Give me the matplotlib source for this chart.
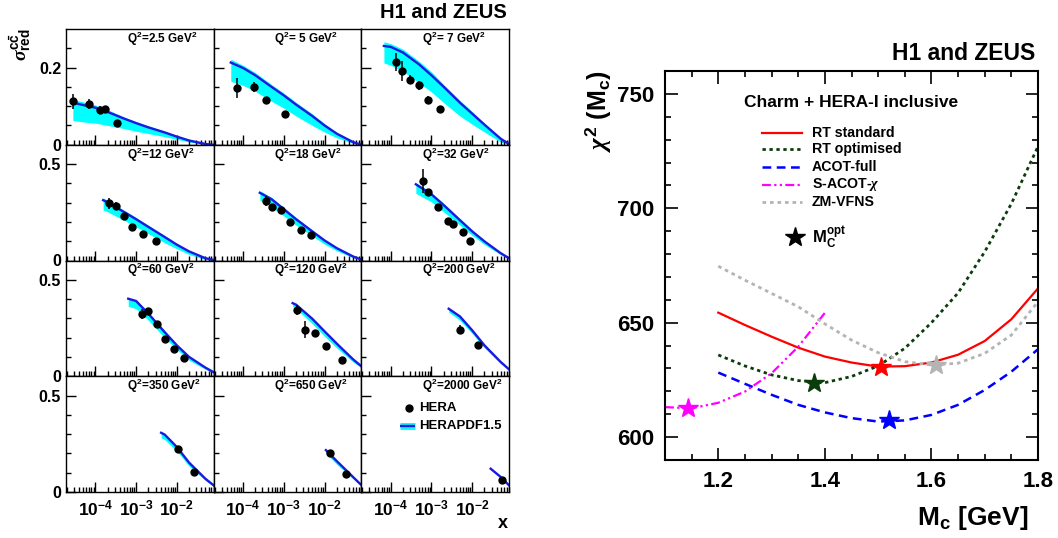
import numpy as np
import matplotlib
matplotlib.use("Agg")
import matplotlib.pyplot as plt
from matplotlib.ticker import FixedLocator, FixedFormatter, MultipleLocator, LogLocator, NullFormatter

plt.rcParams['font.family'] = ['Liberation Sans', 'DejaVu Sans']
plt.rcParams['font.weight'] = 'bold'
plt.rcParams['mathtext.fontset'] = 'custom'
plt.rcParams['mathtext.rm'] = 'Liberation Sans:bold'
plt.rcParams['mathtext.it'] = 'Liberation Serif:italic'
plt.rcParams['mathtext.bf'] = 'Liberation Sans:bold'
plt.rcParams['mathtext.sf'] = 'Liberation Sans:bold'

# ---------------- Left: reduced charm cross sections ----------------
q2_labels = ["2.5", " 5", " 7", "12", "18", "32", "60", "120", "200", "350", "650", "2000"]

hera_x = [
    [2.81e-5, 6.84e-5, 1.28e-4, 1.77e-4, 3.43e-4],
    [7.1e-5, 1.83e-4, 3.56e-4, 1.05e-3],
    [1.33e-4, 1.87e-4, 3.0e-4, 5.0e-4, 8.0e-4, 1.65e-3],
    [2.17e-4, 3.18e-4, 5.0e-4, 8.0e-4, 1.5e-3, 3.03e-3],
    [3.56e-4, 5.1e-4, 8.35e-4, 1.42e-3, 2.6e-3, 4.78e-3],
    [6.28e-4, 8.0e-4, 1.42e-3, 2.5e-3, 3.46e-3, 5.9e-3, 8.6e-3],
    [1.42e-3, 2.0e-3, 3.2e-3, 5.15e-3, 8.3e-3, 1.52e-2],
    [2.07e-3, 3.33e-3, 5.77e-3, 1.06e-2, 2.63e-2],
    [5.15e-3, 1.38e-2],
    [1.04e-2, 2.58e-2],
    [1.38e-2, 3.43e-2],
    [5.4e-2],
]
hera_y = [
    [0.1126, 0.1065, 0.0892, 0.0918, 0.0563],
    [0.147, 0.150, 0.115, 0.0805],
    [0.2147, 0.191, 0.169, 0.154, 0.117, 0.0935],
    [0.2957, 0.2817, 0.2313, 0.174, 0.139, 0.099],
    [0.308, 0.275, 0.264, 0.200, 0.1565, 0.134],
    [0.412, 0.353, 0.2765, 0.2035, 0.191, 0.148, 0.099],
    [0.3207, 0.336, 0.269, 0.195, 0.143, 0.0966],
    [0.341, 0.241, 0.224, 0.157, 0.086],
    [0.241, 0.164],
    [0.2207, 0.1034],
    [0.200, 0.095],
    [0.062],
]
hera_err = [
    [0.019, 0.013, 0.010, 0.009, 0.006],
    [0.026, 0.013, 0.010, 0.006],
    [0.024, 0.026, 0.011, 0.011, 0.009, 0.007],
    [0.030, 0.020, 0.012, 0.010, 0.008, 0.008],
    [0.028, 0.017, 0.014, 0.012, 0.010, 0.010],
    [0.064, 0.020, 0.014, 0.012, 0.012, 0.012, 0.010],
    [0.026, 0.017, 0.014, 0.014, 0.014, 0.010],
    [0.026, 0.043, 0.017, 0.014, 0.010],
    [0.024, 0.012],
    [0.020, 0.010],
    [0.020, 0.010],
    [0.012],
]

pdf_x = [
    [2.8e-5, 5e-5, 1e-4, 2e-4, 5e-4, 1e-3, 2e-3, 5e-3, 1e-2, 2e-2, 5e-2, 8e-2],
    [5e-5, 1e-4, 2e-4, 5e-4, 1e-3, 2e-3, 5e-3, 1e-2, 2e-2, 5e-2, 8e-2],
    [6.8e-5, 1e-4, 2e-4, 5e-4, 1e-3, 2e-3, 5e-3, 1e-2, 2e-2, 5e-2, 8e-2],
    [1.55e-4, 2e-4, 5e-4, 1e-3, 2e-3, 5e-3, 1e-2, 2e-2, 5e-2, 8e-2],
    [2.58e-4, 5e-4, 1e-3, 2e-3, 5e-3, 1e-2, 2e-2, 5e-2, 8e-2],
    [4.14e-4, 1e-3, 2e-3, 5e-3, 1e-2, 2e-2, 5e-2, 8e-2],
    [6.4e-4, 1e-3, 2e-3, 5e-3, 1e-2, 2e-2, 5e-2, 8e-2],
    [1.65e-3, 2e-3, 5e-3, 1e-2, 2e-2, 5e-2, 8e-2],
    [2.65e-3, 5e-3, 1e-2, 2e-2, 5e-2, 8e-2],
    [4.1e-3, 5e-3, 1e-2, 2e-2, 5e-2, 8e-2],
    [1.08e-2, 2e-2, 5e-2, 8e-2],
    [2.84e-2, 5e-2, 8e-2],
]
pdf_mid = [
    [0.109, 0.103, 0.096, 0.085, 0.068, 0.056, 0.045, 0.032, 0.021, 0.011, 0.002, 0.0],
    [0.213, 0.199, 0.180, 0.150, 0.128, 0.104, 0.0745, 0.050, 0.0286, 0.007, 0.0],
    [0.256, 0.2537, 0.239, 0.208, 0.180, 0.150, 0.109, 0.0805, 0.052, 0.0156, 0.002],
    [0.313, 0.301, 0.252, 0.214, 0.174, 0.122, 0.082, 0.047, 0.012, 0.003],
    [0.351, 0.318, 0.266, 0.214, 0.151, 0.104, 0.064, 0.021, 0.005],
    [0.395, 0.343, 0.287, 0.209, 0.151, 0.099, 0.038, 0.012],
    [0.402, 0.390, 0.324, 0.229, 0.160, 0.100, 0.045, 0.021],
    [0.379, 0.371, 0.298, 0.233, 0.169, 0.088, 0.052],
    [0.350, 0.310, 0.238, 0.160, 0.074, 0.036],
    [0.307, 0.298, 0.233, 0.152, 0.069, 0.0345],
    [0.217, 0.160, 0.078, 0.036],
    [0.1207, 0.078, 0.0345],
]
pdf_hi = [
    [0.117, 0.111, 0.103, 0.091, 0.072, 0.060, 0.049, 0.035, 0.023, 0.012, 0.003, 0.0],
    [0.2216, 0.206, 0.187, 0.156, 0.134, 0.110, 0.080, 0.0545, 0.032, 0.0087, 0.0],
    [0.267, 0.262, 0.2476, 0.216, 0.189, 0.156, 0.115, 0.0857, 0.056, 0.018, 0.003],
    [0.325, 0.311, 0.261, 0.223, 0.183, 0.129, 0.087, 0.050, 0.014, 0.004],
    [0.362, 0.327, 0.275, 0.223, 0.158, 0.110, 0.068, 0.023, 0.006],
    [0.4035, 0.351, 0.296, 0.2175, 0.158, 0.104, 0.042, 0.014],
    [0.405, 0.393, 0.331, 0.236, 0.1655, 0.105, 0.048, 0.022],
    [0.384, 0.376, 0.303, 0.238, 0.174, 0.091, 0.055],
    [0.353, 0.3155, 0.243, 0.1655, 0.078, 0.040],
    [0.310, 0.302, 0.236, 0.155, 0.072, 0.036],
    [0.220, 0.164, 0.081, 0.038],
    [0.122, 0.079, 0.036],
]
pdf_lo = [
    [0.063, 0.059, 0.056, 0.050, 0.042, 0.035, 0.029, 0.021, 0.014, 0.007, 0.001, 0.0],
    [0.1645, 0.154, 0.1385, 0.1125, 0.095, 0.0745, 0.050, 0.033, 0.018, 0.0035, 0.0],
    [0.212, 0.206, 0.190, 0.160, 0.137, 0.109, 0.0745, 0.053, 0.033, 0.007, 0.001],
    [0.261, 0.252, 0.209, 0.174, 0.139, 0.092, 0.061, 0.031, 0.005, 0.001],
    [0.313, 0.278, 0.231, 0.183, 0.127, 0.085, 0.050, 0.014, 0.003],
    [0.348, 0.304, 0.252, 0.183, 0.130, 0.083, 0.030, 0.009],
    [0.362, 0.350, 0.290, 0.200, 0.138, 0.083, 0.036, 0.016],
    [0.362, 0.350, 0.272, 0.207, 0.1466, 0.074, 0.045],
    [0.333, 0.2897, 0.221, 0.1466, 0.0655, 0.031],
    [0.281, 0.272, 0.212, 0.134, 0.060, 0.029],
    [0.200, 0.143, 0.069, 0.031],
    [0.1155, 0.074, 0.031],
]

# ---------------- Right: chi2 scans ----------------
mc_grid = [1.20, 1.25, 1.30, 1.35, 1.40, 1.45, 1.50, 1.55, 1.60, 1.65, 1.70, 1.75, 1.80]
chi2_rt_standard = [654.4, 649.0, 643.9, 639.1, 635.2, 632.6, 630.8, 631.0, 632.6, 636.0, 642.0, 651.5, 665.0]
chi2_rt_optimised = [635.9, 631.1, 627.2, 624.7, 623.8, 626.5, 631.1, 638.8, 650.0, 663.0, 681.0, 702.0, 727.0]
chi2_acot_full = [628.2, 623.3, 618.5, 614.1, 610.8, 608.3, 606.8, 607.3, 609.7, 614.1, 620.6, 628.6, 638.4]
chi2_zmvfns = [674.7, 668.6, 662.8, 657.0, 649.5, 642.4, 636.9, 633.0, 631.5, 632.3, 636.6, 644.6, 659.2]
mc_grid_sacot = [1.10, 1.15, 1.20, 1.25, 1.30, 1.35, 1.40]
chi2_sacot = [613.1, 612.6, 615.0, 619.9, 627.9, 639.5, 654.3]

scheme_names = ["RT standard", "RT optimised", "ACOT-full", r"S-ACOT-$\chi$", "ZM-VFNS"]
mc_opt = [1.506, 1.38, 1.52, 1.144, 1.609]
chi2_opt = [630.8, 623.8, 607.6, 612.6, 631.5]

# ---------------- Figure ----------------
fig = plt.figure(figsize=(10.58, 5.38), dpi=100)
gs = fig.add_gridspec(4, 3, left=66/1058, right=509/1058, top=1-29/538, bottom=1-492/538,
                      hspace=0, wspace=0)

band_col = '#00ffff'
line_col = '#1a1ae0'

for i in range(12):
    r, c = divmod(i, 3)
    ax = fig.add_subplot(gs[r, c])
    ax.set_xscale('log')
    ax.fill_between(pdf_x[i], pdf_lo[i], pdf_hi[i], color=band_col, lw=0)
    ax.plot(pdf_x[i], pdf_mid[i], color=line_col, lw=1.7)
    ax.errorbar(hera_x[i], hera_y[i], yerr=hera_err[i], fmt='o', color='k', ms=5,
                elinewidth=1.1, capsize=0)
    ax.set_xlim(1.9e-5, 0.08)
    if r == 0:
        ax.set_ylim(0, 0.3)
        ax.yaxis.set_major_locator(FixedLocator([0, 0.2]))
        ax.yaxis.set_minor_locator(FixedLocator([0.05, 0.1, 0.15, 0.25]))
        ylabs = ['0', '0.2']
    else:
        ax.set_ylim(0, 0.6)
        ax.yaxis.set_major_locator(FixedLocator([0, 0.5]))
        ax.yaxis.set_minor_locator(FixedLocator([0.1, 0.2, 0.3, 0.4]))
        ylabs = ['0', '0.5']
    if c == 0:
        ax.yaxis.set_major_formatter(FixedFormatter(ylabs))
    else:
        ax.yaxis.set_major_formatter(NullFormatter())
    ax.xaxis.set_major_locator(FixedLocator([1e-4, 1e-3, 1e-2]))
    ax.xaxis.set_minor_locator(LogLocator(base=10, subs=np.arange(2, 10), numticks=20))
    ax.xaxis.set_minor_formatter(NullFormatter())
    if r == 3:
        ax.xaxis.set_major_formatter(FixedFormatter([r'$\mathrm{10^{-4}}$', r'$\mathrm{10^{-3}}$',
                                                     r'$\mathrm{10^{-2}}$']))
    else:
        ax.xaxis.set_major_formatter(NullFormatter())
    ax.tick_params(which='both', direction='in', top=False, right=False, labelsize=11.5, width=1)
    ax.tick_params(axis='x', labelsize=12.5)
    ax.tick_params(which='major', length=7)
    ax.tick_params(which='minor', length=3.5)
    ax.tick_params(axis='x', which='major', pad=5)
    for s in ax.spines.values():
        s.set_linewidth(1.0)
    ax.text(0.41, 0.915, r'Q$\mathrm{^2}$=' + q2_labels[i] + r' GeV$\mathrm{^2}$', transform=ax.transAxes,
            fontsize=8.5, fontweight='bold', ha='left', va='center')
    if i == 11:
        ax.plot([0.32], [0.7216], 'o', color='k', ms=5, transform=ax.transAxes, clip_on=False)
        ax.text(0.391, 0.7216, 'HERA', transform=ax.transAxes, fontsize=9.5, va='center')
        ax.plot([0.26, 0.365], [0.569, 0.569], color=band_col, lw=5, transform=ax.transAxes,
                solid_capstyle='butt')
        ax.plot([0.26, 0.365], [0.569, 0.569], color=line_col, lw=1.7, transform=ax.transAxes,
                solid_capstyle='butt')
        ax.text(0.391, 0.569, 'HERAPDF1.5', transform=ax.transAxes, fontsize=9.5, va='center')

fig.text(507/1058, 1-13/538, 'H1 and ZEUS', ha='right', va='center', fontsize=14.5, fontweight='bold')
fig.text(20/1058, 1-45/538, r'$\sigma^{\mathrm{c\bar{c}}}_{\mathrm{red}}$', rotation=90, ha='center',
         va='center', fontsize=14)
fig.text(503/1058, 1-523/538, 'x', ha='center', va='center', fontsize=13, fontweight='bold')

# ---------------- Right panel ----------------
axr = fig.add_axes([665/1058, 1-460/538, (1038-665)/1058, (460-71)/538])
styles = [
    dict(color='#ff0000', lw=1.6, ls='-'),
    dict(color='#0b3d0b', lw=2.0, ls=(0, (1.2, 1.3))),
    dict(color='#0000ff', lw=1.8, ls=(0, (3.5, 2.2))),
    dict(color='#ff00ff', lw=1.6, ls=(0, (4, 1.5, 1, 1.5, 1, 1.5))),
    dict(color='#b4b4b4', lw=2.0, ls=(0, (1.3, 1.4))),
]
series_x = [mc_grid, mc_grid, mc_grid, mc_grid_sacot, mc_grid]
series_y = [chi2_rt_standard, chi2_rt_optimised, chi2_acot_full, chi2_sacot, chi2_zmvfns]
for k in range(5):
    axr.plot(series_x[k], series_y[k], **styles[k])
for k in range(5):
    axr.plot([mc_opt[k]], [chi2_opt[k]], marker='*', ms=15, color=styles[k]['color'],
             markeredgecolor=styles[k]['color'], ls='none', zorder=5)

axr.set_xlim(1.1, 1.8)
axr.set_ylim(590, 760)
axr.xaxis.set_major_locator(FixedLocator([1.2, 1.4, 1.6, 1.8]))
axr.xaxis.set_minor_locator(MultipleLocator(0.05))
axr.yaxis.set_major_locator(FixedLocator([600, 650, 700, 750]))
axr.yaxis.set_minor_locator(MultipleLocator(10))
axr.tick_params(which='both', direction='in', top=True, right=True, labelsize=16, width=1.2)
axr.tick_params(which='major', length=9, pad=8)
axr.tick_params(which='minor', length=4.5)
for s in axr.spines.values():
    s.set_linewidth(1.5)

axr.text(0.4987, 0.9185, 'Charm + HERA-I inclusive', transform=axr.transAxes, ha='center',
         va='center', fontsize=12.5, fontweight='bold')
leg_y = [0.841, 0.799, 0.753, 0.707, 0.662]
for k in range(5):
    axr.plot([0.26, 0.367], [leg_y[k], leg_y[k]], transform=axr.transAxes, **styles[k])
    axr.text(0.394, leg_y[k], scheme_names[k], transform=axr.transAxes, ha='left', va='center',
             fontsize=10.2, fontweight='bold')
axr.plot([0.3485], [0.574], marker='*', ms=15, color='k', transform=axr.transAxes, ls='none')
axr.text(0.394, 0.574, r'M$\mathrm{_C^{opt}}$', transform=axr.transAxes, ha='left', va='center',
         fontsize=12, fontweight='bold')

fig.text(1035/1058, 1-53/538, 'H1 and ZEUS', ha='right', va='center', fontsize=16.5, fontweight='bold')
fig.text(598/1058, 1-111/538, r'$\chi^{\mathrm{2}}$ (M$\mathrm{_c}$)', rotation=90, ha='center',
         va='center', fontsize=18)
fig.text(1028/1058, 1-518/538, r'M$\mathrm{_c}$ [GeV]', ha='right', va='center', fontsize=19,
         fontweight='bold')

fig.savefig('out.png', dpi=100)
